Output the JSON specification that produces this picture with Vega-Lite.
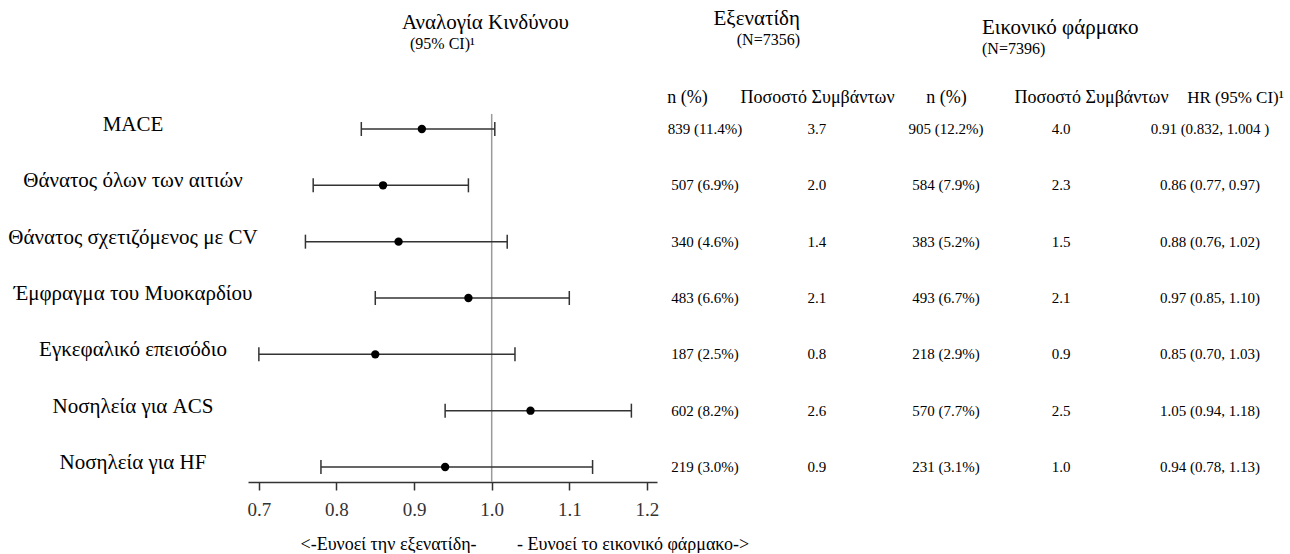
{
  "$schema": "https://vega.github.io/schema/vega-lite/v6.json",
  "padding": {"left": 0, "top": 8, "right": 0, "bottom": 0},
  "background": "white",
  "bounds": "flush",
  "spacing": 0,
  "config": {
    "font": "Liberation Serif, DejaVu Serif",
    "view": {"stroke": null},
    "title": {"fontWeight": "normal", "fontSize": 21, "subtitleFontSize": 16, "color": "#000", "subtitleColor": "#000", "anchor": "start", "frame": "group", "subtitlePadding": 0, "font": "Liberation Serif, DejaVu Serif", "subtitleFont": "Liberation Serif, DejaVu Serif"}
  },
  "datasets": {
    "rows": [
      {"label": "MACE", "hr": 0.91, "lo": 0.832, "hi": 1.004, "exe_n": "839 (11.4%)", "exe_rate": "3.7", "pla_n": "905 (12.2%)", "pla_rate": "4.0", "hr_text": "0.91 (0.832, 1.004 )"},
      {"label": "Θάνατος όλων των αιτιών", "hr": 0.86, "lo": 0.77, "hi": 0.97, "exe_n": "507 (6.9%)", "exe_rate": "2.0", "pla_n": "584 (7.9%)", "pla_rate": "2.3", "hr_text": "0.86 (0.77, 0.97)"},
      {"label": "Θάνατος σχετιζόμενος με CV", "hr": 0.88, "lo": 0.76, "hi": 1.02, "exe_n": "340 (4.6%)", "exe_rate": "1.4", "pla_n": "383 (5.2%)", "pla_rate": "1.5", "hr_text": "0.88 (0.76, 1.02)"},
      {"label": "Έμφραγμα του Μυοκαρδίου", "hr": 0.97, "lo": 0.85, "hi": 1.10, "exe_n": "483 (6.6%)", "exe_rate": "2.1", "pla_n": "493 (6.7%)", "pla_rate": "2.1", "hr_text": "0.97 (0.85, 1.10)"},
      {"label": "Εγκεφαλικό επεισόδιο", "hr": 0.85, "lo": 0.70, "hi": 1.03, "exe_n": "187 (2.5%)", "exe_rate": "0.8", "pla_n": "218 (2.9%)", "pla_rate": "0.9", "hr_text": "0.85 (0.70, 1.03)"},
      {"label": "Νοσηλεία για ACS", "hr": 1.05, "lo": 0.94, "hi": 1.18, "exe_n": "602 (8.2%)", "exe_rate": "2.6", "pla_n": "570 (7.7%)", "pla_rate": "2.5", "hr_text": "1.05 (0.94, 1.18)"},
      {"label": "Νοσηλεία για HF", "hr": 0.94, "lo": 0.78, "hi": 1.13, "exe_n": "219 (3.0%)", "exe_rate": "0.9", "pla_n": "231 (3.1%)", "pla_rate": "1.0", "hr_text": "0.94 (0.78, 1.13)"}
    ],
    "ref": [{"ref": 1.0}]
  },
  "hconcat": [
    {
      "width": 248, "height": 368,
      "data": {"name": "rows"},
      "mark": {"type": "text", "fontSize": 21, "dy": -4, "dx": 9, "color": "#000"},
      "encoding": {
        "y": {"field": "label", "type": "nominal", "sort": null, "scale": {"type": "point", "padding": 0.266, "domain": ["MACE", "Θάνατος όλων των αιτιών", "Θάνατος σχετιζόμενος με CV", "Έμφραγμα του Μυοκαρδίου", "Εγκεφαλικό επεισόδιο", "Νοσηλεία για ACS", "Νοσηλεία για HF"]}, "axis": null},
        "text": {"field": "label"}
      }
    },
    {
      "width": 409, "height": 368,
      "title": {"text": "Αναλογία Κινδύνου", "subtitle": "\u200b\u00a0\u00a0(95% CI)¹", "dx": 154, "offset": 61},
      "encoding": {
        "y": {"field": "label", "type": "nominal", "sort": null, "scale": {"type": "point", "padding": 0.266, "domain": ["MACE", "Θάνατος όλων των αιτιών", "Θάνατος σχετιζόμενος με CV", "Έμφραγμα του Μυοκαρδίου", "Εγκεφαλικό επεισόδιο", "Νοσηλεία για ACS", "Νοσηλεία για HF"]}, "axis": null}
      },
      "layer": [
        {
          "data": {"name": "ref"},
          "mark": {"type": "rule", "color": "#9a9a9a", "strokeWidth": 1.5},
          "encoding": {
            "y": null,
            "x": {"field": "ref", "type": "quantitative", "scale": {"domain": [0.686, 1.213], "nice": false, "zero": false},
              "axis": {"title": "<-Ευνοεί την εξενατίδη-\u00a0\u00a0\u00a0\u00a0\u00a0\u00a0\u00a0\u00a0\u00a0- Ευνοεί το εικονικό φάρμακο->", "titleFontSize": 18, "titleFontWeight": "normal", "titleColor": "#000", "titleAlign": "left", "titleAnchor": "start", "titleX": 52, "titleY": 62, "titleBaseline": "middle",
                "values": [0.7, 0.8, 0.9, 1.0, 1.1, 1.2], "format": ".1f", "grid": false, "domainColor": "#333", "domainWidth": 1.5, "tickColor": "#333", "tickWidth": 1.5, "tickSize": 8, "labelFontSize": 19, "labelColor": "#333", "labelPadding": 10}}
          }
        },
        {
          "data": {"name": "rows"},
          "mark": {"type": "rule", "color": "#333", "strokeWidth": 1.5},
          "encoding": {
            "x": {"field": "lo", "type": "quantitative"},
            "x2": {"field": "hi"}
          }
        },
        {
          "data": {"name": "rows"},
          "mark": {"type": "tick", "color": "#333", "thickness": 1.5, "size": 14, "opacity": 1},
          "encoding": {
            "x": {"field": "lo", "type": "quantitative"}
          }
        },
        {
          "data": {"name": "rows"},
          "mark": {"type": "tick", "color": "#333", "thickness": 1.5, "size": 14, "opacity": 1},
          "encoding": {
            "x": {"field": "hi", "type": "quantitative"}
          }
        },
        {
          "data": {"name": "rows"},
          "mark": {"type": "point", "filled": true, "color": "#000", "size": 70, "opacity": 1},
          "encoding": {
            "x": {"field": "hr", "type": "quantitative"}
          }
        }
      ]
    },
    {
      "width": 208, "height": 368,
      "data": {"name": "rows"},
      "transform": [{"fold": ["exe_n", "exe_rate"], "as": ["col", "val"]}],
      "title": {"text": "Εξενατίδη", "subtitle": "(N=7356)", "anchor": "end", "dx": -65, "offset": 40},
      "mark": {"type": "text", "fontSize": 15, "color": "#000"},
      "encoding": {
        "y": {"field": "label", "type": "nominal", "sort": null, "scale": {"type": "point", "padding": 0.266, "domain": ["MACE", "Θάνατος όλων των αιτιών", "Θάνατος σχετιζόμενος με CV", "Έμφραγμα του Μυοκαρδίου", "Εγκεφαλικό επεισόδιο", "Νοσηλεία για ACS", "Νοσηλεία για HF"]}, "axis": null},
        "x": {"field": "col", "type": "nominal", "sort": ["exe_n", "exe_rate"], "scale": {"type": "point", "padding": 0.4286},
          "axis": {"orient": "top", "title": null, "domain": false, "ticks": false, "labelAngle": 0, "labelFontSize": 18, "labelColor": "#000", "labelPadding": 8, "labelOverlap": false, "labelBound": false,
            "labelExpr": "datum.value == 'exe_n' ? 'n (%)' : 'Ποσοστό Συμβάντων'",
            "labelOffset": {"condition": {"test": "datum.value == 'exe_n'", "value": -18}, "value": 0}}},
        "text": {"field": "val"}
      }
    },
    {
      "width": 277, "height": 368,
      "data": {"name": "rows"},
      "transform": [{"fold": ["pla_n", "pla_rate"], "as": ["col", "val"]}],
      "title": {"text": "Εικονικό φάρμακο", "subtitle": "(N=7396)", "dx": 117, "offset": 31},
      "mark": {"type": "text", "fontSize": 15, "color": "#000"},
      "encoding": {
        "y": {"field": "label", "type": "nominal", "sort": null, "scale": {"type": "point", "padding": 0.266, "domain": ["MACE", "Θάνατος όλων των αιτιών", "Θάνατος σχετιζόμενος με CV", "Έμφραγμα του Μυοκαρδίου", "Εγκεφαλικό επεισόδιο", "Νοσηλεία για ACS", "Νοσηλεία για HF"]}, "axis": null},
        "x": {"field": "col", "type": "nominal", "sort": ["pla_n", "pla_rate"], "scale": {"type": "point", "padding": 0.704},
          "axis": {"orient": "top", "title": null, "domain": false, "ticks": false, "labelAngle": 0, "labelFontSize": 18, "labelColor": "#000", "labelPadding": 8, "labelOverlap": false, "labelBound": false,
            "labelExpr": "datum.value == 'pla_n' ? 'n (%)' : 'Ποσοστό Συμβάντων'",
            "labelOffset": {"condition": {"test": "datum.value == 'pla_rate'", "value": 30}, "value": 0}}},
        "text": {"field": "val"}
      }
    },
    {
      "width": 136, "height": 368,
      "data": {"name": "rows"},
      "transform": [{"fold": ["hr_text"], "as": ["col", "val"]}],
      "mark": {"type": "text", "fontSize": 15, "color": "#000"},
      "encoding": {
        "y": {"field": "label", "type": "nominal", "sort": null, "scale": {"type": "point", "padding": 0.266, "domain": ["MACE", "Θάνατος όλων των αιτιών", "Θάνατος σχετιζόμενος με CV", "Έμφραγμα του Μυοκαρδίου", "Εγκεφαλικό επεισόδιο", "Νοσηλεία για ACS", "Νοσηλεία για HF"]}, "axis": null},
        "x": {"field": "col", "type": "nominal", "scale": {"type": "point", "padding": 0.5},
          "axis": {"orient": "top", "title": null, "domain": false, "ticks": false, "labelAngle": 0, "labelFontSize": 17, "labelColor": "#000", "labelPadding": 8, "labelOverlap": false, "labelBound": false,
            "labelExpr": "'HR (95% CI)¹'", "labelOffset": 25}},
        "text": {"field": "val"}
      }
    }
  ]
}
